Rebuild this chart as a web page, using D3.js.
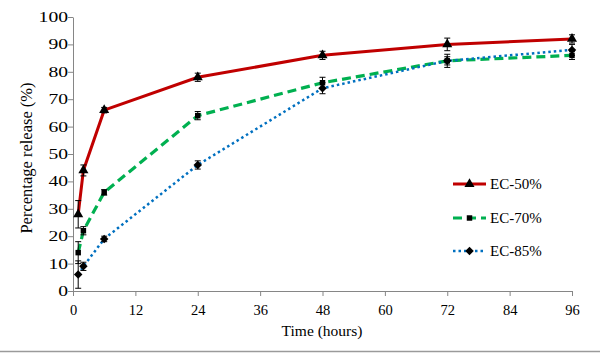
<!DOCTYPE html>
<html>
<head>
<meta charset="utf-8">
<script src="https://cdn.jsdelivr.net/npm/d3@7"></script>
<style>
body { margin: 0; background: #fff; }
text { font-family: "Liberation Serif", "Times New Roman", serif; fill: #000; }
.axis path, .axis line { stroke: #868686; stroke-width: 1; }
.err { stroke: #000; stroke-width: 1; }
</style>
</head>
<body>
<div id="chart"></div>
<script>
var w = 600;
var h = 354;

// data
var times = [1, 2, 6, 24, 48, 72, 96];
var ec50 = [28, 44, 66, 78, 86, 90, 92];
var ec50Err = [5, 2, 1, 1.5, 1.5, 2.3, 1.5];
var ec70 = [14, 22, 36, 64, 76, 84, 86];
var ec70Err = [4, 1.5, 1, 1.5, 2, 1.5, 1.5];
var ec85 = [6, 9, 19, 46, 74, 84, 88];
var ec85Err = [5, 1.5, 1, 1.5, 2, 2.4, 2];
var seriesNames = ["EC-50%", "EC-70%", "EC-85%"];
var xTicks = [0, 12, 24, 36, 48, 60, 72, 84, 96];
var yTicks = [0, 10, 20, 30, 40, 50, 60, 70, 80, 90, 100];

var svg = d3.select("#chart")
            .append("svg")
            .attr("width", w)
            .attr("height", h);

var xScale = d3.scaleLinear().domain([0, 96]).range([73, 572]);
var yScale = d3.scaleLinear().domain([0, 100]).range([291, 17]);

// series styling (diamond = square turned 45deg)
var series = [
    {name: seriesNames[0], vals: ec50, err: ec50Err, color: "#c00000", width: 3, dash: null, sym: d3.symbolTriangle, size: 44, rot: 0},
    {name: seriesNames[1], vals: ec70, err: ec70Err, color: "#00b050", width: 3.2, dash: "9,5", sym: d3.symbolSquare, size: 30, rot: 0},
    {name: seriesNames[2], vals: ec85, err: ec85Err, color: "#0070c0", width: 2.5, dash: "2.5,3", sym: d3.symbolSquare, size: 36, rot: 45}
];

// axes
var xAxis = d3.axisBottom(xScale).tickValues(xTicks).tickSize(5).tickSizeOuter(0);
var yAxis = d3.axisLeft(yScale).tickValues(yTicks).tickSize(5).tickSizeOuter(0);

var gx = svg.append("g")
    .attr("class", "axis")
    .attr("transform", "translate(0," + yScale(0) + ")")
    .call(xAxis);
gx.selectAll("text")
    .attr("y", 24).attr("dy", 0)
    .style("font-size", "14.5px");

var gy = svg.append("g")
    .attr("class", "axis")
    .attr("transform", "translate(" + xScale(0) + ",0)")
    .call(yAxis);
gy.selectAll("text")
    .attr("x", 0)
    .attr("transform", "translate(-5,0) scale(1.4,1)")
    .style("font-size", "14px");
svg.selectAll(".axis text").style("fill", "#000");

// axis titles
svg.append("text")
    .attr("x", 322).attr("y", 336)
    .attr("text-anchor", "middle")
    .style("font-size", "15.5px")
    .text("Time (hours)");

svg.append("text")
    .attr("transform", "translate(32,158) rotate(-90)")
    .attr("text-anchor", "middle")
    .style("font-size", "16.5px")
    .text("Percentage release (%)");

// lines
series.forEach(function(s){
    var pts = times.map(function(t, i){ return {t: t, v: s.vals[i], e: s.err[i]}; });
    var line = d3.line()
        .x(function(d){ return xScale(d.t); })
        .y(function(d){ return yScale(d.v); });
    svg.append("path")
        .datum(pts)
        .attr("d", line)
        .attr("fill", "none")
        .attr("stroke", s.color)
        .attr("stroke-width", s.width)
        .attr("stroke-dasharray", s.dash);
    s.pts = pts;
});

// error bars and markers
series.forEach(function(s){
    var g = svg.append("g");
    g.selectAll(".v").data(s.pts).enter().append("line")
        .attr("class", "err")
        .attr("x1", function(d){ return xScale(d.t); })
        .attr("x2", function(d){ return xScale(d.t); })
        .attr("y1", function(d){ return yScale(d.v - d.e); })
        .attr("y2", function(d){ return yScale(d.v + d.e); });
    [-1, 1].forEach(function(sgn){
        g.selectAll(".c" + sgn).data(s.pts).enter().append("line")
            .attr("class", "err")
            .attr("x1", function(d){ return xScale(d.t) - 3; })
            .attr("x2", function(d){ return xScale(d.t) + 3; })
            .attr("y1", function(d){ return yScale(d.v + sgn * d.e); })
            .attr("y2", function(d){ return yScale(d.v + sgn * d.e); });
    });
    g.selectAll("path").data(s.pts).enter().append("path")
        .attr("d", d3.symbol().type(s.sym).size(s.size))
        .attr("transform", function(d){ return "translate(" + xScale(d.t) + "," + yScale(d.v) + ") rotate(" + s.rot + ")"; })
        .attr("fill", "#000");
});

// legend
var legendY = [184, 218, 251];
series.forEach(function(s, i){
    var lg = svg.append("g").attr("transform", "translate(453," + legendY[i] + ")");
    lg.append("line")
        .attr("x1", 0).attr("x2", 33)
        .attr("stroke", s.color)
        .attr("stroke-width", s.width)
        .attr("stroke-dasharray", s.dash);
    lg.append("path")
        .attr("d", d3.symbol().type(s.sym).size(s.size))
        .attr("transform", "translate(16.5,0) rotate(" + s.rot + ")")
        .attr("fill", "#000");
    lg.append("text")
        .attr("x", 37).attr("y", 5)
        .style("font-size", "15px")
        .text(s.name);
});

// bottom frame line
svg.append("line")
    .attr("x1", 0).attr("x2", w)
    .attr("y1", 351.5).attr("y2", 351.5)
    .attr("stroke", "#9a9a9a")
    .attr("stroke-width", 1.5);
</script>
</body>
</html>
